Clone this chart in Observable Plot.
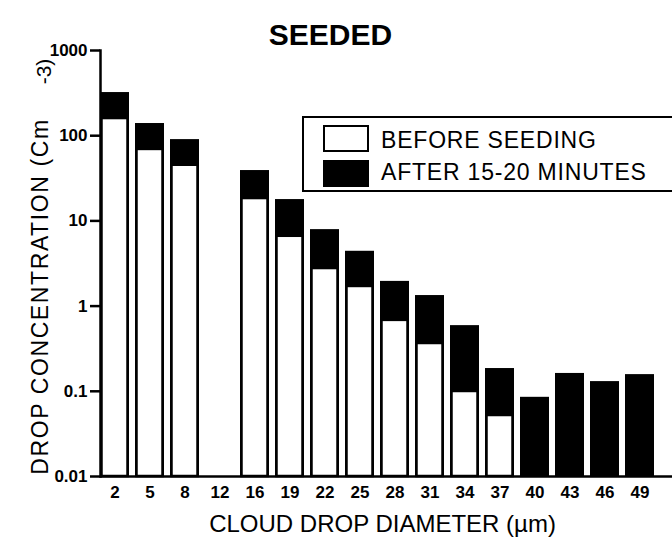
<!DOCTYPE html>
<html>
<head>
<meta charset="utf-8">
<script src="https://cdn.jsdelivr.net/npm/d3@7"></script>
<script src="https://cdn.jsdelivr.net/npm/@observablehq/plot@0.6"></script>
<style>
  html, body { margin: 0; padding: 0; background: #fff; }
  #wrap { position: relative; width: 672px; height: 545px; overflow: hidden; font-family: "Liberation Sans", Arial, sans-serif; }
  #legend { position: absolute; left: 302px; top: 116px; width: 380px; height: 72px; border: 2px solid #000; background: #fff; }
  .sw { position: absolute; left: 19px; width: 42px; height: 23px; border: 2px solid #000; }
  .lt { position: absolute; left: 77px; font-size: 23px; line-height: 22px; letter-spacing: 0.8px; color: #000; white-space: nowrap; }
</style>
</head>
<body>
<div id="wrap">
  <div id="chart"></div>
  <div id="legend"></div>
</div>
<script>
// Cloud drop diameter categories (µm)
const diameters = ["2","5","8","12","16","19","22","25","28","31","34","37","40","43","46","49"];
// Drop concentration (cm^-3) after 15-20 minutes (black bars)
const afterSeeding = [321, 139, 90, null, 39, 17.8, 7.9, 4.4, 1.95, 1.33, 0.59, 0.185, 0.085, 0.162, 0.130, 0.157];
// Drop concentration (cm^-3) before seeding (white bars)
const beforeSeeding = [159, 69, 45, null, 18.3, 6.6, 2.76, 1.70, 0.68, 0.364, 0.0995, 0.052, null, null, null, null];
// Y axis ticks
const yTicks = [0.01, 0.1, 1, 10, 100, 1000];
const yTickLabels = ["0.01", "0.1", "1", "10", "100", "1000"];
const seriesNames = ["BEFORE SEEDING", "AFTER 15-20 MINUTES"];
const titleText = "SEEDED";
const xLabel = "CLOUD DROP DIAMETER (\u00b5m)";
const yLabel = "DROP CONCENTRATION (Cm";
const yLabelSup = "-3)";

const base = yTicks[0];
const rows = diameters.map((d, i) => ({d, after: afterSeeding[i], before: beforeSeeding[i]}));
const afterRows = rows.filter(r => r.after != null);
const beforeRows = rows.filter(r => r.before != null);

const plot = Plot.plot({
  width: 672,
  height: 545,
  marginLeft: 100,
  marginRight: 0,
  marginTop: 50,
  marginBottom: 69,
  style: {fontFamily: "'Liberation Sans', Arial, sans-serif", color: "#000", background: "#fff", overflow: "visible"},
  x: {type: "band", domain: diameters, paddingInner: 0.17, paddingOuter: 0.23, align: 0},
  y: {type: "log", domain: [base, 1000]},
  marks: [
    Plot.barY(afterRows, {x: "d", y1: base, y2: "after", fill: "#000"}),
    Plot.barY(beforeRows, {x: "d", y1: base, y2: "before", fill: "#fff", stroke: "#000", strokeWidth: 2.5, insetLeft: 1.5, insetRight: 1.5}),
    Plot.frame({anchor: "left", strokeWidth: 2.5}),
    Plot.ruleY([base], {strokeWidth: 2.5}),
    Plot.axisX({tickSize: 0, tickPadding: 9, fontSize: 17, fontWeight: "bold", label: null}),
    Plot.axisY({ticks: yTicks, tickFormat: (d) => yTickLabels[yTicks.indexOf(d)], tickSize: 10, tickPadding: 3, fontSize: 17, fontWeight: "bold", strokeWidth: 2.5, label: null}),
    Plot.text([titleText], {frameAnchor: "top", dx: -56, dy: -27, fontSize: 30, fontWeight: "bold"}),
    Plot.text([xLabel], {frameAnchor: "bottom", dx: -4, dy: 55, fontSize: 24}),
    Plot.text([yLabel], {frameAnchor: "left", textAnchor: "middle", dx: -60, dy: 33, rotate: -90, fontSize: 23}),
    Plot.text([yLabelSup], {frameAnchor: "left", textAnchor: "middle", dx: -56, dy: -192, rotate: -90, fontSize: 21})
  ]
});
// widen the y-axis title letter spacing like the reference
d3.select(plot).selectAll("text").filter(function() { return this.textContent === yLabel; }).style("letter-spacing", "1.6px");
document.getElementById("chart").appendChild(plot);

// Legend
const legend = document.getElementById("legend");
const fills = ["#fff", "#000"];
const tops = [7, 42];
const textTops = [11, 43];
seriesNames.forEach((name, i) => {
  const sw = document.createElement("div");
  sw.className = "sw";
  sw.style.top = tops[i] + "px";
  sw.style.background = fills[i];
  legend.appendChild(sw);
  const t = document.createElement("div");
  t.className = "lt";
  t.style.top = textTops[i] + "px";
  t.textContent = name;
  legend.appendChild(t);
});
</script>
</body>
</html>
